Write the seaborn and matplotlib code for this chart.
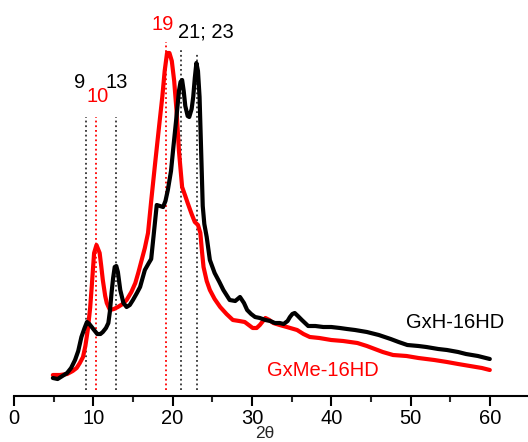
import numpy as np
import pandas as pd
import matplotlib
matplotlib.use("Agg")
import matplotlib.pyplot as plt
import seaborn as sns

# XRD patterns (2θ in degrees, intensity in arbitrary units)
gxh_two_theta = [4.9, 5.5, 6.1, 6.7, 7.2, 7.7, 8.1, 8.5, 8.9, 9.2, 9.5, 9.8, 10.2, 10.5,
                 10.9, 11.2, 11.6, 11.9, 12.1, 12.3, 12.5, 12.7, 12.9, 13.1, 13.4, 13.8,
                 14.2, 14.6, 15.0, 15.5, 15.9, 16.5, 17.0, 17.3, 17.6, 18.0, 18.4, 18.8,
                 19.1, 19.4, 19.8, 20.1, 20.5, 20.8, 21.0, 21.2, 21.4, 21.6, 21.9, 22.1,
                 22.4, 22.6, 22.8, 23.0, 23.2, 23.4, 23.6, 23.8, 24.0, 24.3, 24.7, 25.3,
                 25.9, 26.4, 27.2, 27.9, 28.5, 29.0, 29.4, 29.9, 30.4, 31.0, 31.7, 32.3,
                 32.9, 33.5, 34.0, 34.5, 34.8, 35.1, 35.4, 35.8, 36.3, 37.1, 38.0, 39.0,
                 40.0, 41.1, 42.0, 43.0, 44.5, 46.0, 47.5, 48.5, 49.6, 51.0, 52.0, 53.5,
                 54.6, 56.0, 57.0, 58.5, 60.0]
gxh_intensity = [18, 17, 20, 23, 28, 36, 45, 59, 68, 74, 72, 69, 65, 62,
                 62, 64, 68, 73, 85, 103, 118, 129, 130, 124, 106, 93,
                 89, 91, 96, 103, 109, 126, 133, 137, 160, 191, 190, 189,
                 195, 206, 225, 249, 280, 305, 314, 316, 305, 290, 280, 279,
                 287, 299, 318, 333, 325, 299, 245, 190, 172, 159, 136, 123,
                 114, 106, 96, 95, 99, 93, 86, 82, 79, 78, 76, 75,
                 73, 73, 72, 75, 79, 82, 83, 80, 76, 70, 70, 69,
                 69, 68, 67, 66, 64, 61, 57, 54, 51, 50, 49, 47,
                 46, 44, 42, 40, 37]

gxme_two_theta = [4.9, 5.8, 6.7, 7.4, 7.9, 8.3, 8.7, 9.0, 9.3, 9.6, 9.8, 10.1, 10.4,
                  10.8, 11.0, 11.2, 11.5, 11.7, 12.1, 12.6, 13.1, 13.7, 14.2, 14.8, 15.3,
                  15.7, 16.1, 16.5, 16.9, 17.3, 17.8, 18.3, 18.7, 19.0, 19.3, 19.6, 19.9,
                  20.2, 20.5, 20.8, 21.2, 21.6, 21.9, 22.4, 22.8, 23.2, 23.5, 23.7, 23.9,
                  24.3, 24.7, 25.3, 26.0, 26.8, 27.6, 28.4, 29.1, 29.6, 30.1, 30.6, 31.0,
                  31.4, 31.7, 32.2, 32.7, 33.5, 34.4, 35.7, 36.5, 37.3, 38.5, 40.0, 41.5,
                  43.3, 44.5, 45.5, 46.5, 47.8, 49.5, 51.0, 53.0, 54.6, 56.0, 57.5, 59.0,
                  60.0]
gxme_intensity = [21, 21, 22, 25, 28, 33, 39, 50, 66, 88, 109, 143, 151,
                  143, 130, 116, 100, 93, 86, 87, 89, 92, 96, 104, 113,
                  124, 136, 148, 163, 195, 233, 270, 299, 325, 343, 343, 335,
                  315, 285, 245, 209, 200, 193, 182, 174, 171, 163, 145, 129,
                  115, 106, 97, 89, 82, 76, 75, 74, 71, 68, 68, 71,
                  75, 78, 76, 73, 71, 69, 66, 62, 59, 58, 56, 55,
                  53, 50, 47, 44, 41, 40, 38, 36, 34, 32, 30, 28,
                  26]

# Reflection markers: position, colour, top of the dotted line
peak_positions = [9.1, 10.4, 12.9, 19.2, 21.1, 23.1]
peak_colors = ["#333333", "red", "#333333", "red", "#333333", "#333333"]
peak_tops = [279, 279, 279, 354, 346, 344]
peak_labels = ["9", "10", "13", "19", "21; 23"]
peak_label_x = [8.3, 10.5, 13.0, 18.8, 24.2]
peak_label_y = [313, 299, 314, 371, 364]
peak_label_colors = ["black", "red", "black", "red", "black"]

df = pd.concat([
    pd.DataFrame({"two_theta": gxh_two_theta, "intensity": gxh_intensity, "sample": "GxH-16HD"}),
    pd.DataFrame({"two_theta": gxme_two_theta, "intensity": gxme_intensity, "sample": "GxMe-16HD"}),
], ignore_index=True)

sns.set_style("white")
plt.rcParams["font.family"] = ["Liberation Sans", "DejaVu Sans"]

fig = plt.figure(figsize=(5.28, 4.42), dpi=100)
ax = fig.add_axes([14 / 528, 46 / 442, 1 - 14 / 528, 396 / 442])

for x, c, top in zip(peak_positions, peak_colors, peak_tops):
    ax.plot([x, x], [6, top], color=c, lw=1.3, linestyle=(0, (1, 1.6)), zorder=1)

sns.lineplot(data=df, x="two_theta", y="intensity", hue="sample",
             palette={"GxH-16HD": "black", "GxMe-16HD": "red"},
             hue_order=["GxMe-16HD", "GxH-16HD"],
             sort=False, estimator=None, lw=3, legend=False, ax=ax, zorder=2,
             solid_joinstyle="round", solid_capstyle="round")

for lbl, x, y, c in zip(peak_labels, peak_label_x, peak_label_y, peak_label_colors):
    ax.text(x, y, lbl, color=c, fontsize=14.5, ha="center", va="center")

ax.text(55.6, 74, "GxH-16HD", color="black", fontsize=14.5, ha="center", va="center")
ax.text(39.0, 26, "GxMe-16HD", color="red", fontsize=14.5, ha="center", va="center")

ax.set_xlim(0, 514 / 7.93)
ax.set_ylim(0, 396)
for s in ["top", "right", "left"]:
    ax.spines[s].set_visible(False)
ax.spines["bottom"].set_linewidth(1.5)
ax.spines["bottom"].set_color("black")
ax.set_xticks(np.arange(0, 61, 10))
ax.set_xticks(np.arange(5, 61, 10), minor=True)
ax.set_yticks([])
ax.tick_params(axis="x", which="major", direction="out", length=7, width=1.5,
               labelsize=14.5, pad=2.5, bottom=True, colors="black")
ax.tick_params(axis="x", which="minor", direction="out", length=4.5, width=1.5, bottom=True)
ax.set_xlabel("")
ax.set_ylabel("")

fig.text(265 / 528, 0.5 / 442, "2θ", fontsize=12.5, ha="center", va="bottom")

fig.savefig("out.png", dpi=100)
